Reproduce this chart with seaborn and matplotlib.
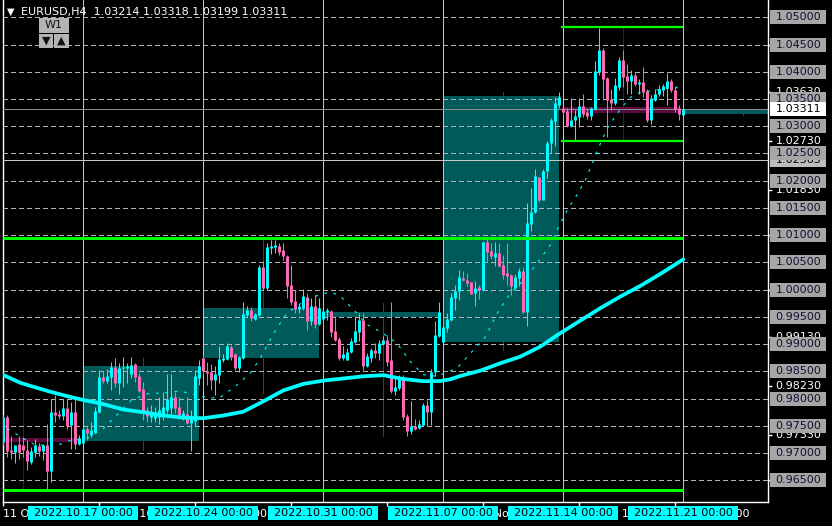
import numpy as np
import pandas as pd
import matplotlib
matplotlib.use('Agg')
import matplotlib.pyplot as plt
import seaborn as sns
from matplotlib.patches import Rectangle
from matplotlib.transforms import blended_transform_factory

# EURUSD H4 candles, bar 0 = 2022.10.17 00:00, 30 bars a week
first_bar = -20
bar_open = [
    .9721, .9767, .9705, .9702, .9716, .9715, .9705, .9683, .9702, .9713,
    .9704, .9715, .9667, .9775, .9771, .9768, .9782, .9751, .9775, .9716,
    .9719, .9745, .9733, .9738, .9776, .9839, .9833, .9840, .9858, .9828,
    .9856, .9857, .9845, .9863, .9841, .9817, .9779, .9767, .9764, .9767,
    .9770, .9779, .9782, .9803, .9785, .9767, .9771, .9756, .9758, .9838,
    .9874, .9851, .9849, .9835, .9844, .9871, .9873, .9895, .9881, .9857,
    .9874, .9953, .9963, .9946, .9954, 1.0041, 1.0003, 1.0077, 1.0079, 1.0081,
    1.0073, 1.0062, 1.0009, .9980, .9964, .9966, .9986, .9942, .9970, .9937,
    .9947, .9959, .9961, .9925, .9910, .9874, .9871, .9885, .9904, .9923,
    .9944, .9859, .9874, .9890, .9884, .9900, .9908, .9870, .9814, .9820,
    .9840, .9768, .9740, .9750, .9746, .9751, .9789, .9775, .9848, .9915,
    .9904, .9930, .9945, .9985, .9997, 1.0022, 1.0017, 1.0014, .9994, 1.0004,
    .9999, 1.0088, 1.0071, 1.0060, 1.0068, 1.0046, 1.0030, 1.0027, 1.0003, 1.0021,
    1.0035, .9959, 1.0120, 1.0142, 1.0207, 1.0165, 1.0217, 1.0270, 1.0310, 1.0339,
    1.0334, 1.0328, 1.0300, 1.0311, 1.0317, 1.0337, 1.0326, 1.0318, 1.0332, 1.0400,
    1.0440, 1.0388, 1.0350, 1.0342, 1.0372, 1.0421, 1.0392, 1.0383, 1.0394, 1.0377,
    1.0381, 1.0364, 1.0311, 1.0349, 1.0359, 1.0366, 1.0371, 1.0383, 1.0367, 1.0334,
    1.03214,
]
bar_high = [
    .9770, .9770, .9731, .9715, .9731, .9729, .9724, .9712, .9725, .9718,
    .9716, .9753, .9800, .9806, .9780, .9800, .9800, .9794, .9800, .9733,
    .9748, .9751, .9757, .9785, .9852, .9852, .9855, .9868, .9874, .9865,
    .9876, .9865, .9876, .9866, .9847, .9831, .9785, .9788, .9785, .9803,
    .9812, .9846, .9846, .9812, .9803, .9779, .9803, .9779, .9853, .9870,
    .9880, .9868, .9864, .9859, .9896, .9881, .9902, .9899, .9884, .9878,
    .9978, .9970, .9968, .9958, 1.0046, 1.0052, 1.0086, 1.0092, 1.0092, 1.0086,
    1.0086, 1.0064, 1.0046, .9999, .9974, 1.0001, .9994, .9985, .9991, .9985,
    .9963, .9966, .9963, .9951, .9914, .9897, .9893, .9911, .9950, .9957,
    .9957, .9884, .9893, .9903, .9908, .9915, .9917, .9978, .9838, .9844,
    .9843, .9772, .9796, .9762, .9760, .9792, .9798, .9854, .9943, .9978,
    .9963, .9957, .9994, 1.0009, 1.0037, 1.0035, 1.0031, 1.0015, 1.0016, 1.0009,
    1.0090, 1.0097, 1.0085, 1.0088, 1.0085, 1.0064, 1.0086, 1.0028, 1.0028, 1.0039,
    1.0041, 1.0160, 1.0186, 1.0221, 1.0207, 1.0221, 1.0273, 1.0315, 1.0354, 1.0363,
    1.0336, 1.0334, 1.0351, 1.0329, 1.0351, 1.0359, 1.0334, 1.0336, 1.0420, 1.0481,
    1.0444, 1.0391, 1.0369, 1.0388, 1.0427, 1.0440, 1.0415, 1.0404, 1.0400, 1.0386,
    1.0408, 1.0369, 1.0357, 1.0369, 1.0375, 1.0377, 1.0398, 1.0386, 1.0372, 1.0339,
    1.03318,
]
bar_low = [
    .9715, .9693, .9690, .9681, .9690, .9693, .9669, .9680, .9693, .9694,
    .9687, .9634, .9647, .9757, .9762, .9760, .9745, .9708, .9707, .9715,
    .9718, .9724, .9729, .9736, .9773, .9829, .9828, .9816, .9822, .9809,
    .9822, .9828, .9837, .9831, .9813, .9760, .9757, .9757, .9757, .9754,
    .9760, .9773, .9770, .9773, .9767, .9760, .9754, .9704, .9749, .9825,
    .9843, .9825, .9816, .9807, .9828, .9868, .9871, .9871, .9853, .9848,
    .9873, .9950, .9942, .9944, .9951, 1.0000, 1.0000, 1.0066, 1.0067, 1.0064,
    1.0055, .9985, .9972, .9957, .9958, .9963, .9926, .9936, .9929, .9936,
    .9936, .9945, .9914, .9905, .9871, .9871, .9870, .9884, .9902, .9905,
    .9853, .9858, .9868, .9874, .9871, .9899, .9859, .9810, .9807, .9816,
    .9761, .9731, .9735, .9743, .9744, .9749, .9749, .9752, .9841, .9914,
    .9904, .9923, .9942, .9963, .9981, 1.0016, 1.0007, .9992, .9970, .9983,
    .9997, 1.0053, 1.0056, 1.0044, 1.0041, 1.0019, 1.0009, .9990, 1.0001, 1.0007,
    .9958, .9934, 1.0108, 1.0140, 1.0161, 1.0164, 1.0205, 1.0251, 1.0264, 1.0334,
    1.0323, 1.0298, 1.0298, 1.0274, 1.0298, 1.0317, 1.0314, 1.0311, 1.0329, 1.0394,
    1.0348, 1.0280, 1.0329, 1.0339, 1.0366, 1.0372, 1.0360, 1.0360, 1.0373, 1.0360,
    1.0353, 1.0308, 1.0305, 1.0347, 1.0355, 1.0355, 1.0339, 1.0363, 1.0326, 1.0312,
    1.03199,
]
bar_close = [
    .9767, .9704, .9702, .9715, .9702, .9705, .9685, .9704, .9715, .9704,
    .9715, .9667, .9775, .9770, .9768, .9782, .9749, .9775, .9716, .9727,
    .9745, .9736, .9742, .9777, .9840, .9833, .9841, .9858, .9828, .9857,
    .9858, .9860, .9862, .9840, .9814, .9778, .9768, .9776, .9773, .9779,
    .9785, .9800, .9803, .9782, .9770, .9773, .9756, .9764, .9841, .9860,
    .9850, .9847, .9835, .9846, .9873, .9875, .9896, .9877, .9856, .9877,
    .9956, .9963, .9948, .9956, 1.0041, 1.0003, 1.0079, 1.0081, 1.0082, 1.0070,
    1.0061, 1.0006, .9978, .9964, .9970, .9988, .9942, .9970, .9937, .9967,
    .9961, .9963, .9923, .9908, .9875, .9882, .9886, .9906, .9925, .9944,
    .9860, .9879, .9890, .9884, .9902, .9908, .9868, .9814, .9822, .9840,
    .9766, .9740, .9750, .9745, .9754, .9789, .9775, .9849, .9917, .9959,
    .9931, .9946, .9986, .9997, 1.0024, 1.0017, 1.0012, .9992, 1.0003, .9999,
    1.0088, 1.0069, 1.0061, 1.0068, 1.0044, 1.0027, 1.0025, 1.0007, 1.0023, 1.0035,
    .9959, 1.0122, 1.0143, 1.0209, 1.0164, 1.0218, 1.0270, 1.0312, 1.0342, 1.0354,
    1.0326, 1.0300, 1.0312, 1.0318, 1.0337, 1.0323, 1.0318, 1.0334, 1.0401, 1.0440,
    1.0386, 1.0349, 1.0342, 1.0375, 1.0421, 1.0391, 1.0383, 1.0394, 1.0377, 1.0381,
    1.0363, 1.0311, 1.0351, 1.0360, 1.0368, 1.0373, 1.0383, 1.0366, 1.0332, 1.0322,
    1.03311,
]

# W1 candles laid over the chart
week_start = [-30, 0, 30, 60, 90, 120, 150]
week_open = [.97277, .97221, .98745, .99498, .99039, 1.03353, 1.03225]
week_high = [.98084, .98745, 1.00911, .99755, 1.0363, 1.0480, 1.0332]
week_low = [.9634, .97056, .98103, .97313, .9890, 1.0275, 1.0320]
week_close = [.97204, .98598, .99663, .9959, 1.03555, 1.03243, 1.03311]

# moving averages
slow_bars = [-20, -15.8, -12.5, -8.3, -4.2, 0, 4.2, 10, 15, 20, 25, 30, 35, 40, 45, 50,
             55, 60, 65, 70, 75, 80, 85, 89.2, 91.7, 94.2, 99.2, 104.2, 109.2, 114.2,
             119.2, 124.2, 129.2, 134.2, 139.2, 144.2, 150]
slow_vals = [.98433, .98292, .98218, .98127, .98048, .97974, .97914, .9780, .9775, .9769,
             .9765, .9764, .9769, .9776, .9795, .9815, .9827, .9833, .9837, .9841, .9843,
             .9836, .9832, .98323, .98354, .98415, .98512, .98648, .98769, .98953, .99199,
             .9943, .99658, .99871, 1.00067, 1.00287, 1.00557]
fast_bars = [-19, -15, -12, -7, -3, 1, 5, 8, 12, 16, 21, 24, 27, 31, 34, 38.4, 41.75,
             44.25, 47.6, 50.9, 54.25, 58.4, 61.75, 64.25, 67.6, 70.9, 74.25, 78.4,
             81.75, 85, 88.4, 93.4, 100.5, 103.4, 106.75, 110, 113.4, 116.75, 118.8,
             121.25, 123, 125.5, 127.6, 129.25, 131.4, 134.75, 136.75, 138.8, 142.6,
             148, 149.75]
fast_vals = [.9745, .9727, .9715, .9713, .9724, .9727, .9745, .9767, .9797, .9809,
             .9811, .9814, .9809, .9802, .9801, .9825, .9847, .9874, .9920, .9957,
             .9974, .9989, .9996, .9988, .9963, .9936, .9923, .9902, .9868, .9844,
             .9841, .9856, .9913, .9956, .9993, 1.0017, 1.0048, 1.0082, 1.0115,
             1.0150, 1.0169, 1.0201, 1.0238, 1.0268, 1.0302, 1.0336, 1.0353, 1.0361,
             1.0366, 1.0372, 1.0367]

# levels
long_levels = [1.0094, .9632]
short_levels = [1.0483, 1.0273]
price_ticks = [1.05, 1.045, 1.04, 1.035, 1.03, 1.025, 1.02, 1.015, 1.01, 1.005, 1.0,
               .995, .99, .985, .98, .975, .97, .965]
pivot_levels = [1.0363, 1.0273, 1.0183, .9913, .9823, .9733]
spread_line = 1.02375
spread_text = '1.02365'
last_price = 1.03311
side_ticks = [1.045, 1.0363, 1.0273, 1.0183, 1.01, 1.0, .9913, .9823, .9733, .965]

monday_bars = [0, 30, 60, 90, 120, 150]
monday_labels = ['2022.10.17 00:00', '2022.10.24 00:00', '2022.10.31 00:00',
                 '2022.11.07 00:00', '2022.11.14 00:00', '2022.11.21 00:00']
time_ticks = [-20, 4, 28, 52, 76, 100, 124, 148]
time_labels = ['11 Oct 2022', '17 Oct 16:00', '21 Oct 16:00', '27 Oct 16:00',
               '2 Nov 16:00', '7 Nov 16:00', '14 Nov 16:00', '18 Nov 16:00']

UP = '#00ffff'
DOWN = '#ff69b4'
WEEK_UP = '#005a5a'
WEEK_DOWN = '#5a0a3c'
GRID = '#b4b4b4'
LIME = '#00ff00'

sns.set_theme(style='dark', rc={'axes.facecolor': 'black', 'figure.facecolor': 'black'})
plt.rcParams['font.family'] = ['DejaVu Sans']

W, H = 832, 526
fig = plt.figure(figsize=(W / 100, H / 100), dpi=100)
ax = fig.add_axes([3 / W, (H - 502) / H, 765 / W, 502 / H])
ax.set_xlim(-20.08, 171.17)
ax.set_ylim(0.96102, 1.05318)

candles = pd.DataFrame({'open': bar_open, 'high': bar_high, 'low': bar_low, 'close': bar_close})
candles['bar'] = np.arange(first_bar, first_bar + len(candles))
candles['colour'] = np.where(candles['close'] >= candles['open'], UP, DOWN)
# a doji still gets one pixel of body
one_px = 1 / 5447
body_mid = (candles['open'] + candles['close']) / 2
body_half = np.maximum((candles['close'] - candles['open']).abs(), one_px) / 2

# weekly candles under the H4 ones
for s, o, h, l, c in zip(week_start, week_open, week_high, week_low, week_close):
    col = WEEK_UP if c >= o else WEEK_DOWN
    ax.bar(s, abs(c - o), bottom=min(o, c), width=29, align='edge', color=col, linewidth=0, zorder=2)
    ax.vlines(s + 15, l, h, colors=col, linewidth=0.7, zorder=2, antialiased=False)

# grid and session lines
ax.hlines(price_ticks, -20.08, 171.17, colors=GRID, linewidth=0.7, linestyles=(0, (5, 3.5)), zorder=3,
          antialiased=False)
ax.vlines(monday_bars, 0.96102, 1.05318, colors='#6fe8e8', linewidth=0.7, zorder=3, antialiased=False)
ax.hlines([last_price, spread_line], -20.08, 171.17, colors=['#8c8c8c', '#c8c8c8'], linewidth=0.7, zorder=3,
          antialiased=False)

# H4 candles, wick 1px, body 3px
ax.vlines(candles['bar'], candles['low'], candles['high'], colors=candles['colour'], linewidth=0.71, zorder=5,
          snap=True)
ax.vlines(candles['bar'], body_mid - body_half, body_mid + body_half,
          colors=candles['colour'], linewidth=2.15, zorder=5, snap=True, capstyle='butt')

sns.lineplot(x=slow_bars, y=slow_vals, ax=ax, color=UP, linewidth=2.7, zorder=7, errorbar=None, sort=False)
sns.lineplot(x=fast_bars, y=fast_vals, ax=ax, color=UP, linewidth=0.8, zorder=6, errorbar=None, sort=False,
             linestyle=(0, (2.5, 6)))

ax.hlines(long_levels, -20.08, 150, colors=LIME, linewidth=2.2, zorder=8)
ax.hlines(short_levels, 119.5, 150, colors=LIME, linewidth=1.6, zorder=8)

# axes frame
for side in ['left', 'bottom', 'right']:
    ax.spines[side].set_color('white')
    ax.spines[side].set_linewidth(1)
ax.spines['top'].set_visible(False)
ax.set_xticks(time_ticks)
ax.set_xticklabels(time_labels, ha='left', fontsize=8, color='white')
ax.tick_params(axis='x', colors='white', length=3, width=1, pad=2, bottom=True)
ax.yaxis.tick_right()
ax.set_yticks(side_ticks)
ax.set_yticklabels([])
ax.tick_params(axis='y', colors='white', length=3, width=1, right=True)

# price scale
side_tr = blended_transform_factory(ax.transAxes, ax.transData)
half = 7 / 5447
for lvl in pivot_levels:
    ax.text(1.0098, lvl, f'{lvl:.5f}', transform=side_tr, color='white', fontsize=8, va='center', zorder=9, clip_on=False)
ax.add_patch(Rectangle((1.0026, spread_line - half), 56 / 765, 2 * half, transform=side_tr,
                       facecolor='#bdbdbd', linewidth=0, clip_on=False, zorder=9))
ax.text(1.0098, spread_line, spread_text, transform=side_tr, color='black', fontsize=8, va='center', zorder=9, clip_on=False)
for lvl in price_ticks:
    ax.add_patch(Rectangle((1.0026, lvl - half), 56 / 765, 2 * half, transform=side_tr,
                           facecolor='#a6a6a6', linewidth=0, clip_on=False, zorder=10))
    ax.text(1.0098, lvl, f'{lvl:.5f}', transform=side_tr, color='#101030', fontsize=8, va='center', zorder=11, clip_on=False)
ax.add_patch(Rectangle((1.0026, last_price - half), 56 / 765, 2 * half, transform=side_tr,
                       facecolor='white', linewidth=0, clip_on=False, zorder=12))
ax.text(1.0098, last_price, f'{last_price:.5f}', transform=side_tr, color='black', fontsize=8, va='center', zorder=13, clip_on=False)

# Monday time flags
time_tr = blended_transform_factory(ax.transData, ax.transAxes)
for b, lab in zip(monday_bars, monday_labels):
    ax.add_patch(Rectangle((b - 13.75, -0.036), 27.5, 0.028, transform=time_tr,
                           facecolor=UP, linewidth=0, clip_on=False, zorder=10))
    ax.text(b, -0.0225, lab, transform=time_tr, color='black', fontsize=8, ha='center', va='center',
            zorder=11, clip_on=False)

# header and W1 buttons
fig.text(7 / W, 1 - 12 / H, '▼', color='white', fontsize=7, ha='left', va='center')
fig.text(21 / W, 1 - 12 / H, 'EURUSD,H4  1.03214 1.03318 1.03199 1.03311', color='white', fontsize=8, ha='left', va='center')
for x0, y0, w, h, txt in [(39, 18, 30, 15, 'W1'), (39, 34, 14, 14, '▼'), (54, 34, 15, 14, '▲')]:
    fig.add_artist(Rectangle((x0 / W, 1 - (y0 + h) / H), w / W, h / H, transform=fig.transFigure,
                             facecolor='#b4b4b4', linewidth=0, zorder=20))
    fig.text((x0 + w / 2) / W, 1 - (y0 + h / 2) / H, txt, color='#101010', fontsize=8,
             ha='center', va='center', zorder=21)

fig.savefig('out.png', dpi=100, facecolor='black')
